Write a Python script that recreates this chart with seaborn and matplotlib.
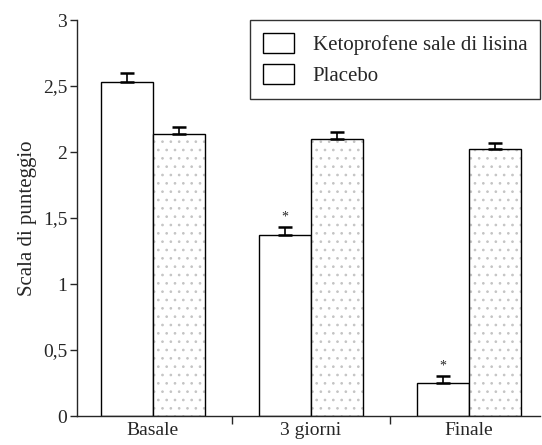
import matplotlib
matplotlib.use("Agg")
import matplotlib.pyplot as plt
import seaborn as sns
import pandas as pd
import numpy as np
from matplotlib.patches import Rectangle

categories = ["Basale", "3 giorni", "Finale"]
series = ["Ketoprofene sale di lisina", "Placebo"]
keto_vals = [2.53, 1.37, 0.25]
keto_err = [0.07, 0.06, 0.05]
plac_vals = [2.14, 2.10, 2.02]
plac_err = [0.05, 0.05, 0.05]
yticks = [0, 0.5, 1, 1.5, 2, 2.5, 3]
ytick_labels = ["0", "0,5", "1", "1,5", "2", "2,5", "3"]

df = pd.DataFrame({
    "cat": categories * 2,
    "serie": [series[0]] * 3 + [series[1]] * 3,
    "val": keto_vals + plac_vals,
})

sns.set_style("ticks")
plt.rcParams["font.family"] = ["Liberation Serif", "DejaVu Serif"]
plt.rcParams["hatch.linewidth"] = 0.7

fig = plt.figure(figsize=(5.42, 4.45), dpi=100)
ax = fig.add_axes([0.142, 0.065, 0.854, 0.89])

sns.barplot(data=df, x="cat", y="val", hue="serie", order=categories,
            hue_order=series, palette=["white", "white"], edgecolor="black",
            linewidth=1.0, width=0.66, errorbar=None, ax=ax, legend=True)

keto_patches = ax.containers[0].patches
plac_patches = ax.containers[1].patches
for p in plac_patches:
    p.set_hatch("..")
    p.set_edgecolor("#c4c4c4")
    p.set_linewidth(0)
    outline = Rectangle(p.get_xy(), p.get_width(), p.get_height(), fill=False,
                        edgecolor="black", linewidth=1.0, zorder=p.get_zorder() + 0.1)
    ax.add_patch(outline)
for cont, vals, er in [(keto_patches, keto_vals, keto_err), (plac_patches, plac_vals, plac_err)]:
    xs = [p.get_x() + p.get_width() / 2 for p in cont]
    ax.errorbar(xs, vals, yerr=[np.zeros(len(er)), er], fmt="none",
                ecolor="black", elinewidth=1.2, capsize=5, capthick=1.8, zorder=5)

# asterisks
for i in [1, 2]:
    p = keto_patches[i]
    ax.text(p.get_x() + p.get_width() / 2, keto_vals[i] + keto_err[i] + 0.03, "*",
            ha="center", va="bottom", fontsize=10)

ax.set_ylim(0, 3)
ax.set_xlim(-0.48, 2.45)
ax.set_yticks(yticks)
ax.set_yticklabels(ytick_labels, fontsize=14)
ax.set_xticks([0, 1, 2])
ax.set_xticklabels(categories, fontsize=14)
ax.tick_params(axis="x", length=0, pad=4)
ax.set_xticks([0.5, 1.5], minor=True)
ax.tick_params(axis="x", which="minor", length=6, width=1, direction="out")
ax.tick_params(axis="y", length=5, width=1, direction="out", pad=2)
ax.set_xlabel("")
ax.set_ylabel("Scala di punteggio", fontsize=15, labelpad=4)
for s in ["top", "right"]:
    ax.spines[s].set_visible(False)
for s in ["left", "bottom"]:
    ax.spines[s].set_linewidth(1.0)

leg = ax.legend(loc="upper right", bbox_to_anchor=(1.0, 1.0), borderaxespad=0,
                fontsize=15, frameon=True, fancybox=False, edgecolor="black",
                handlelength=1.5, handleheight=1.1, borderpad=0.6,
                labelspacing=0.45, handletextpad=0.9)
leg.get_frame().set_linewidth(1.0)
leg.set_zorder(10)
for h in leg.legend_handles:
    h.set_hatch(None)
    h.set_facecolor("white")
    h.set_edgecolor("black")
    h.set_linewidth(1.0)

fig.savefig("out.png", dpi=100)
